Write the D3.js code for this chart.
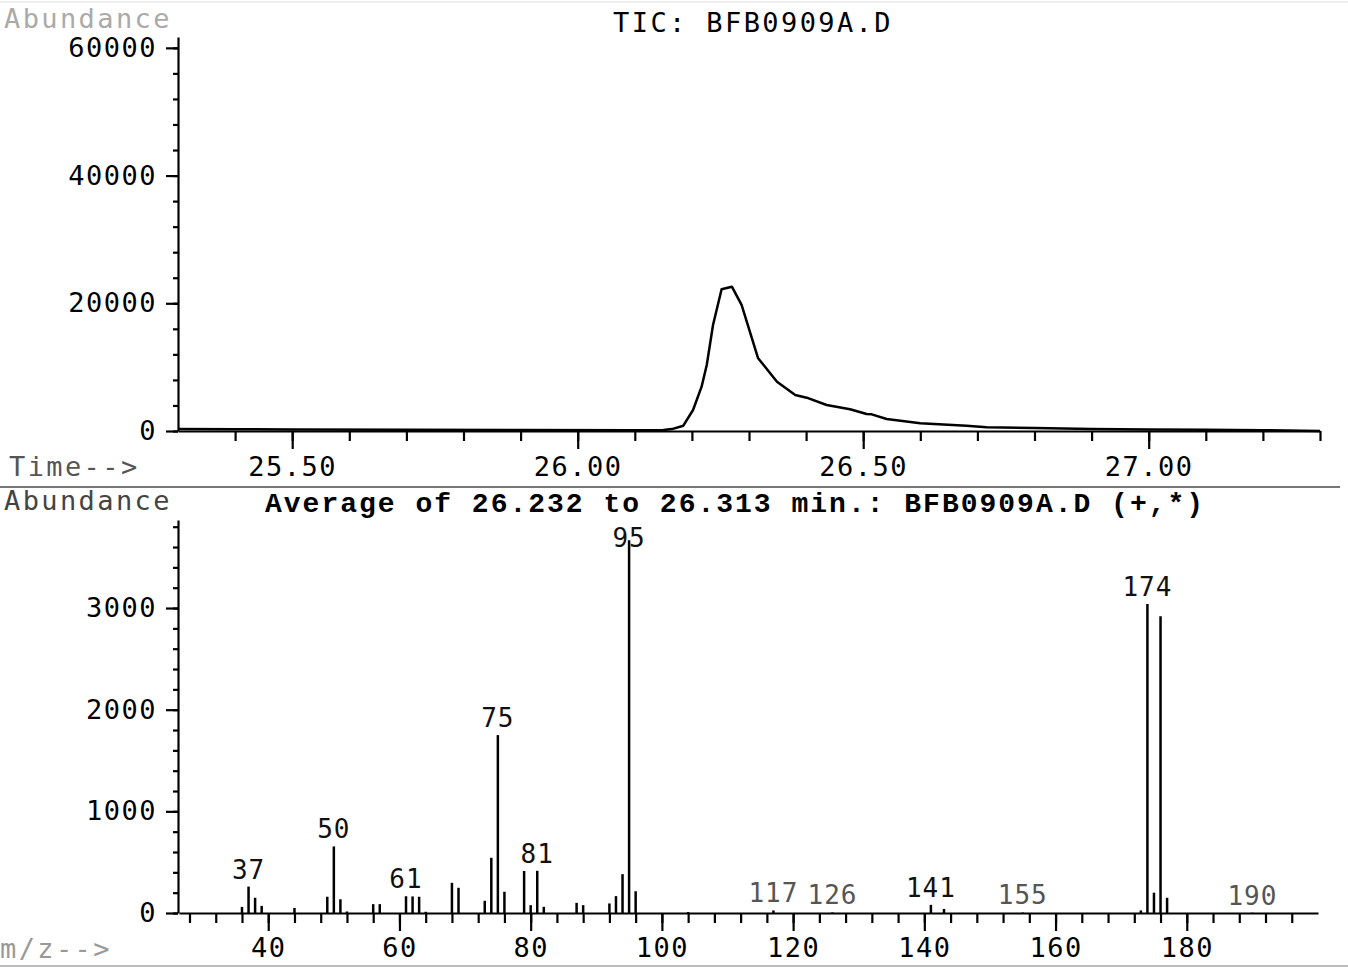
<!DOCTYPE html>
<html>
<head>
<meta charset="utf-8">
<script src="https://cdn.jsdelivr.net/npm/d3@7"></script>
<style>
  body { margin: 0; background: #fff; }
  svg text { font-family: "DejaVu Sans Mono", monospace; }
</style>
</head>
<body>
<svg width="1348" height="968"></svg>
<script>
// TIC chromatogram (minutes, abundance)
var ticTime  = [25.30, 25.40, 25.50, 25.70, 25.90, 26.10, 26.150, 26.165, 26.185, 26.202, 26.217, 26.226, 26.237, 26.252, 26.270, 26.287, 26.316, 26.349, 26.381, 26.401, 26.436, 26.477, 26.506, 26.515, 26.541, 26.600, 26.681, 26.716, 26.80, 26.90, 27.00, 27.10, 27.20, 27.30];
var ticAbund = [300, 280, 250, 210, 170, 130, 150, 300, 830, 3290, 6940, 10340, 16600, 22200, 22600, 19740, 11390, 7720, 5640, 5220, 4070, 3400, 2660, 2610, 1880, 1200, 830, 580, 470, 330, 235, 180, 120, 0];

// mass spectrum (m/z, abundance)
var mz      = [36, 37, 38, 39, 44, 49, 50, 51, 52, 56, 57, 61, 62, 63, 64, 68, 69, 73, 74, 75, 76, 79, 80, 81, 82, 87, 88, 92, 93, 94, 95, 96, 104, 117, 126, 141, 143, 155, 173, 174, 175, 176, 177, 190];
var msAbund = [60, 260, 150, 70, 50, 160, 655, 135, 15, 87, 87, 165, 163, 160, 12, 297, 248, 120, 543, 1750, 209, 413, 77, 415, 61, 100, 77, 94, 166, 382, 3668, 214, 10, 25, 6, 80, 40, 5, 25, 3040, 200, 2920, 150, 3];
var labeledMz = [37, 50, 61, 75, 81, 95, 117, 126, 141, 155, 174, 190];
var fadedMz   = [117, 126, 155, 190];

// axis ticks
var ticMajorX = [25.5, 26.0, 26.5, 27.0];
var ticMajorY = [0, 20000, 40000, 60000];
var msMajorX  = [40, 60, 80, 100, 120, 140, 160, 180];
var msMajorY  = [0, 1000, 2000, 3000];

var svg = d3.select("svg");

// ---------- top: TIC ----------
var x1 = d3.scaleLinear().domain([25.3, 27.3]).range([178, 1320]);
var y1 = d3.scaleLinear().domain([0, 61700]).range([431, 37]);

var gTic = svg.append("g");

gTic.append("g")
    .attr("transform", "translate(0,431)")
    .call(d3.axisBottom(x1).tickValues(d3.range(25.4, 27.31, 0.1)).tickSize(10).tickSizeOuter(0).tickFormat(""))
    .call(function(g){ g.select(".domain").remove() });
gTic.append("g")
    .attr("transform", "translate(0,431)")
    .call(d3.axisBottom(x1).tickValues(ticMajorX).tickSize(18).tickPadding(8).tickSizeOuter(0).tickFormat(d3.format(".2f")));

gTic.append("g")
    .attr("transform", "translate(178,0)")
    .call(d3.axisLeft(y1).tickValues(d3.range(0, 60001, 4000)).tickSize(5).tickFormat(""))
    .call(function(g){ g.select(".domain").remove() });
gTic.append("g")
    .attr("transform", "translate(178,0)")
    .call(d3.axisLeft(y1).tickValues(ticMajorY).tickSize(12).tickPadding(9).tickSizeOuter(0).tickFormat(d3.format("d")));

gTic.append("path")
    .datum(d3.zip(ticTime, ticAbund))
    .attr("fill", "none")
    .attr("stroke", "#000")
    .attr("stroke-width", 2.5)
    .attr("stroke-linejoin", "round")
    .attr("d", d3.line().x(function(d){ return x1(d[0]) }).y(function(d){ return y1(d[1]) }));

gTic.append("text").attr("class", "lbl").attr("x", 753).attr("y", 32).attr("text-anchor", "middle").text("TIC: BFB0909A.D");
gTic.append("text").attr("class", "lbl").attr("x", 4).attr("y", 28).attr("fill", "#aaa").text("Abundance");
gTic.append("text").attr("class", "lbl").attr("x", 9).attr("y", 476).attr("fill", "#555").text("Time-->");

// ---------- bottom: spectrum ----------
var x2 = d3.scaleLinear().domain([26.4, 200]).range([179, 1318]);
var y2 = d3.scaleLinear().domain([0, 3866]).range([913, 520]);

var gMs = svg.append("g");

gMs.append("g")
    .attr("transform", "translate(0,913)")
    .call(d3.axisBottom(x2).tickValues(d3.range(28, 197, 4)).tickSize(10).tickFormat(""))
    .call(function(g){ g.select(".domain").remove() });
gMs.append("g")
    .attr("transform", "translate(0,913)")
    .call(d3.axisBottom(x2).tickValues(msMajorX).tickSize(18).tickPadding(7).tickSizeOuter(0));

gMs.append("g")
    .attr("transform", "translate(178,0)")
    .call(d3.axisLeft(y2).tickValues(d3.range(0, 3801, 200)).tickSize(5).tickFormat(""))
    .call(function(g){ g.select(".domain").remove() });
gMs.append("g")
    .attr("transform", "translate(178,0)")
    .call(d3.axisLeft(y2).tickValues(msMajorY).tickSize(12).tickPadding(9).tickSizeOuter(0).tickFormat(d3.format("d")));

var peaks = d3.zip(mz, msAbund);
gMs.selectAll(".peak")
    .data(peaks)
    .enter()
    .append("line")
      .attr("class", "peak")
      .attr("x1", function(d){ return x2(d[0]) })
      .attr("x2", function(d){ return x2(d[0]) })
      .attr("y1", y2(0))
      .attr("y2", function(d){ return y2(d[1]) })
      .attr("stroke", "#000")
      .attr("stroke-width", 2.5);

gMs.selectAll(".plabel")
    .data(peaks.filter(function(d){ return labeledMz.indexOf(d[0]) >= 0 }))
    .enter()
    .append("text")
      .attr("class", "plabel")
      .attr("x", function(d){ return x2(d[0]) })
      .attr("y", function(d){ return Math.max(y2(d[1]) - 8, 547) })
      .attr("text-anchor", "middle")
      .style("font-size", "26px")
      .style("letter-spacing", "1px")
      .attr("fill", function(d){ return fadedMz.indexOf(d[0]) >= 0 ? "#555" : "#111" })
      .text(function(d){ return d[0] });

gMs.append("text").attr("x", 265).attr("y", 512)
    .style("font-family", "'Liberation Mono', monospace").style("font-weight", "bold")
    .style("font-size", "28px").style("letter-spacing", "2px")
    .text("Average of 26.232 to 26.313 min.: BFB0909A.D (+,*)");
gMs.append("text").attr("class", "lbl").attr("x", 4).attr("y", 510).attr("fill", "#444").text("Abundance");
gMs.append("text").attr("class", "lbl").attr("x", 0).attr("y", 958).attr("fill", "#999").text("m/z-->");

// styling shared by all axes
svg.selectAll(".domain, .tick line").attr("stroke", "#000").attr("stroke-width", 2.2);
svg.selectAll(".tick text").style("font-size", "27px").style("letter-spacing", "1.5px").attr("fill", "#000");
svg.selectAll(".lbl").style("font-size", "27px").style("letter-spacing", "2.4px");

// panel separators
svg.append("line").attr("x1", 0).attr("x2", 1340).attr("y1", 487).attr("y2", 487).attr("stroke", "#777").attr("stroke-width", 2);
svg.append("line").attr("x1", 0).attr("x2", 1348).attr("y1", 966).attr("y2", 966).attr("stroke", "#bbb").attr("stroke-width", 2);
svg.append("line").attr("x1", 0).attr("x2", 1348).attr("y1", 2).attr("y2", 2).attr("stroke", "#ddd").attr("stroke-width", 1);
</script>
</body>
</html>
